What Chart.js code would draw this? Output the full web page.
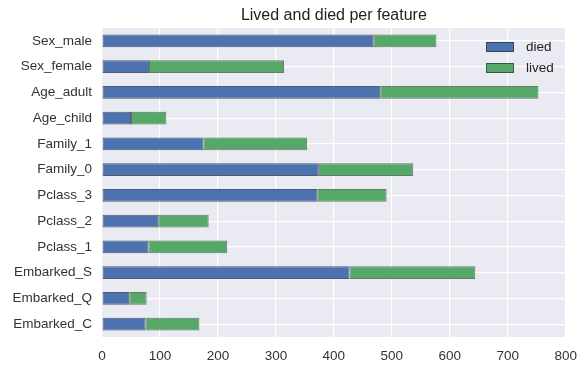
<!DOCTYPE html>
<html>
<head>
<meta charset="utf-8">
<script src="https://cdn.jsdelivr.net/npm/chart.js@4"></script>
<style>
  html, body { margin: 0; padding: 0; background: #fff; }
  #wrap { width: 588px; height: 372px; }
</style>
</head>
<body>
<div id="wrap"><canvas id="featureChart" width="588" height="372"></canvas></div>
<script>
const features = ['Sex_male', 'Sex_female', 'Age_adult', 'Age_child', 'Family_1', 'Family_0',
                  'Pclass_3', 'Pclass_2', 'Pclass_1', 'Embarked_S', 'Embarked_Q', 'Embarked_C'];
const died  = [468, 81, 480, 50, 175, 374, 372, 97, 80, 427, 47, 75];
const lived = [109, 233, 273, 61, 179, 163, 119, 87, 136, 217, 30, 93];
const xTicks = [0, 100, 200, 300, 400, 500, 600, 700, 800];

const FONT = '"Liberation Sans", Arial, sans-serif';

// title + legend drawn by hand so they sit like the matplotlib version
const decor = {
    id: 'decor',
    afterDraw(chart) {
        const ctx = chart.ctx;
        const area = chart.chartArea;
        ctx.save();
        ctx.fillStyle = '#222';
        ctx.font = '16px ' + FONT;
        ctx.textAlign = 'center';
        ctx.textBaseline = 'middle';
        ctx.fillText('Lived and died per feature', (area.left + area.right) / 2, 16);

        ctx.font = '13.5px ' + FONT;
        ctx.textAlign = 'left';
        chart.data.datasets.forEach((ds, i) => {
            const y = 42 + i * 21;
            ctx.fillStyle = ds.backgroundColor;
            ctx.fillRect(486, y, 28, 10);
            ctx.strokeStyle = 'rgba(40,40,40,0.6)';
            ctx.lineWidth = 1;
            ctx.strokeRect(486.5, y + 0.5, 27, 9);
            ctx.fillStyle = '#222';
            ctx.fillText(ds.label, 526, y + 5);
        });
        ctx.restore();
    }
};

const bgPlugin = {
    id: 'plotBg',
    beforeDraw(chart) {
        const a = chart.chartArea;
        chart.ctx.save();
        chart.ctx.fillStyle = '#EAEAF2';
        chart.ctx.fillRect(a.left, a.top, a.right - a.left, a.bottom - a.top);
        chart.ctx.restore();
    }
};

new Chart(document.getElementById('featureChart'), {
    type: 'bar',
    data: {
        labels: features,
        datasets: [
            { label: 'died', data: died, backgroundColor: '#4C72B0',
              borderColor: 'rgba(30,40,70,0.75)', borderWidth: 1, borderSkipped: false,
              barPercentage: 0.5, categoryPercentage: 1 },
            { label: 'lived', data: lived, backgroundColor: '#55A868',
              borderColor: 'rgba(30,60,35,0.65)', borderWidth: 1, borderSkipped: false,
              barPercentage: 0.5, categoryPercentage: 1 }
        ]
    },
    options: {
        indexAxis: 'y',
        responsive: false,
        animation: false,
        layout: { padding: { left: 0, right: 21, top: 28, bottom: 0 } },
        scales: {
            x: {
                stacked: true,
                min: 0,
                max: 800,
                afterBuildTicks(scale) { scale.ticks = xTicks.map(v => ({ value: v })); },
                afterFit(scale) { scale.height = 35; },
                grid: { color: '#ffffff', lineWidth: 1.2, drawTicks: false },
                border: { display: false },
                ticks: { color: '#333', font: { family: FONT, size: 13.5 }, padding: 11 }
            },
            y: {
                stacked: true,
                afterFit(scale) { scale.width = 102; },
                grid: { color: '#ffffff', lineWidth: 1.2, offset: false, drawTicks: false },
                border: { display: false },
                ticks: { color: '#333', font: { family: FONT, size: 13.5 }, padding: 10 }
            }
        },
        plugins: {
            legend: { display: false },
            tooltip: { enabled: false }
        }
    },
    plugins: [bgPlugin, decor]
});
</script>
</body>
</html>
